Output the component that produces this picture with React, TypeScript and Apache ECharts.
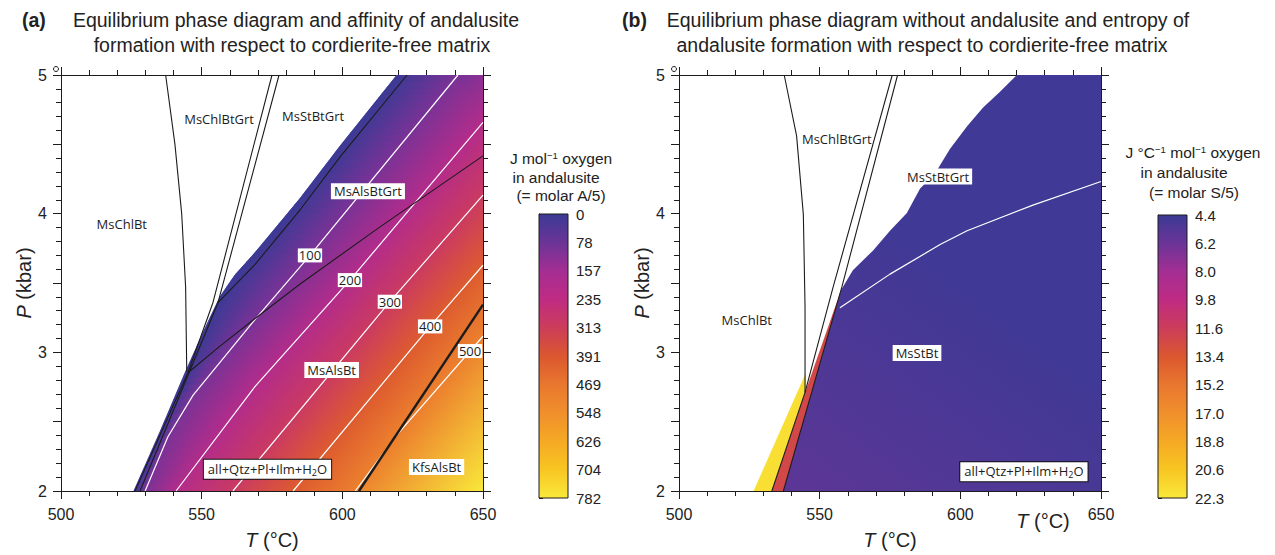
import React, { useEffect, useRef } from 'react';
import * as echarts from 'echarts';

const AXIS_FONT = '"Liberation Sans", Arial, sans-serif';
const LABEL_FONT = '"Open Sans", "Noto Sans", sans-serif';
const INK = '#1c1c1c';

// ---------- colour scale (top -> bottom) ----------
const scaleColors = ['#3b3a95', '#6b3497', '#a42e93', '#bf2b83', '#cc3d5a', '#db572f', '#e9772f', '#f08f2c', '#f5a924', '#f8c622', '#f9e83a'];
const affinityTickLabels = ['0', '78', '157', '235', '313', '391', '469', '548', '626', '704', '782'];
const entropyTickLabels = ['4.4', '6.2', '8.0', '9.8', '11.6', '13.4', '15.2', '17.0', '18.8', '20.6', '22.3'];
const affinityRange = [0, 782];
const entropyRange = [4.4, 22.3];

// ---------- axes ----------
const temperatureTicks = [500, 550, 600, 650];
const pressureTicks = [2, 3, 4, 5];

// ---------- panel (a): affinity contours [T °C, P kbar] ----------
const affinityLevels = [0, 100, 200, 300, 400, 500];
const affinity0 = [[525.9, 2.0], [535.2, 2.427], [544.1, 2.853], [551.2, 3.173], [556.5, 3.40], [561.8, 3.557], [569.0, 3.720], [585.0, 4.111], [599.2, 4.488], [619.4, 5.0]];
const affinity100 = [[529.9, 2.0], [538.0, 2.391], [546.9, 2.690], [569.0, 3.237], [588.5, 3.699], [641.1, 5.0]];
const affinity200 = [[540.9, 2.0], [569.0, 2.754], [602.7, 3.521], [650, 4.659]];
const affinity300 = [[561.1, 2.0], [616.9, 3.365], [650, 4.133]];
const affinity400 = [[582.5, 2.0], [631.2, 3.187], [650, 3.628]];
const affinity500 = [[604.6, 2.0], [619.4, 2.405], [650, 3.116]];
const affinityContours = [affinity0, affinity100, affinity200, affinity300, affinity400, affinity500];
const affinityPeak = [650, 2.0, 782];

// panel (a): reaction lines
const grtInA = [[537.2, 5.0], [540.5, 4.5], [542.9, 4.0], [544.3, 3.47], [544.7, 2.86]];
const chlOutA1 = [[575.0, 5.0], [554.0, 3.358], [545.1, 2.853], [526.3, 2.0]];
const chlOutA2 = [[577.5, 5.0], [555.8, 3.358], [528.1, 2.0]];
const stOutA = [[623.0, 5.0], [599.2, 4.410], [585.0, 4.028], [569.0, 3.635], [555.8, 3.358]];
const grtOutA = [[545.1, 2.853], [556.5, 3.045], [569.0, 3.244], [585.0, 3.493], [613.4, 3.905], [650, 4.417]];
const kfsInA = [[605.9, 2.0], [650, 3.344]];

// panel (a): labels [text, T, P, kind]
const labelsA = [
  ['MsChlBt', 521.6, 3.922, 'plain'],
  ['MsChlBtGrt', 556.2, 4.680, 'plain'],
  ['MsStBtGrt', 589.6, 4.701, 'plain'],
  ['MsAlsBtGrt', 609.1, 4.161, 'box'],
  ['MsAlsBt', 596.2, 2.872, 'box'],
  ['KfsAlsBt', 633.5, 2.173, 'box'],
  ['all+Qtz+Pl+Ilm+H{sub|2}O', 573.4, 2.156, 'frame'],
  ['100', 588.5, 3.699, 'tag'],
  ['200', 602.7, 3.521, 'tag'],
  ['300', 616.9, 3.365, 'tag'],
  ['400', 631.2, 3.187, 'tag'],
  ['500', 645.4, 3.009, 'tag'],
];

// ---------- panel (b): entropy field ----------
const grtInB = [[537.4, 5.0], [541.8, 4.561], [544.2, 3.993], [544.8, 3.329], [544.8, 2.711]];
const chlOutB1 = [[575.8, 5.0], [554.8, 3.472], [544.8, 2.711], [533.0, 2.0]];
const chlOutB2 = [[577.7, 5.0], [557.9, 3.472], [537.1, 2.0]];
const grtOutB = [[557.2, 3.322], [575.0, 3.564], [592.8, 3.777], [602.4, 3.877], [625.8, 4.062], [650, 4.232]];
const entropyYellowOutline = [[526.5, 2.0], [533.0, 2.0], [544.8, 2.711], [545.1, 2.853]];
const entropyYellowValue = 21.8;
const entropyRedOutline = [[533.0, 2.0], [537.1, 2.0], [557.6, 3.45], [544.8, 2.711]];
const entropyRedValue = 12.3;
const entropyBlueOutline = [[537.1, 2.0], [557.6, 3.45], [561.8, 3.592], [569.0, 3.735], [575.0, 3.877], [581.0, 4.005], [585.7, 4.182], [591.0, 4.289], [596.3, 4.467], [602.4, 4.630], [608.1, 4.765], [614.1, 4.879], [620.1, 5.0], [650, 5.0], [650, 2.0]];
const entropyBlueGradient = [[545, 2.0, 5.6], [600, 3.5, 4.6]];

const labelsB = [
  ['MsChlBtGrt', 556.1, 4.538, 'plain'],
  ['MsStBtGrt', 592.1, 4.268, 'box'],
  ['MsChlBt', 524.1, 3.235, 'plain'],
  ['MsStBt', 584.6, 2.995, 'box'],
  ['all+Qtz+Pl+Ilm+H{sub|2}O', 622.6, 2.139, 'frame'],
];

// ---------- helpers ----------
const stopRgb = scaleColors.map((h) => {
  const n = parseInt(h.slice(1), 16);
  return [(n >> 16) & 255, (n >> 8) & 255, n & 255];
});
function colorAt(t: number) {
  const tt = Math.max(0, Math.min(1, t));
  const f = tt * (stopRgb.length - 1);
  const i = Math.min(Math.floor(f), stopRgb.length - 2);
  const u = f - i;
  const a = stopRgb[i], b = stopRgb[i + 1];
  return `rgb(${Math.round(a[0] + (b[0] - a[0]) * u)},${Math.round(a[1] + (b[1] - a[1]) * u)},${Math.round(a[2] + (b[2] - a[2]) * u)})`;
}
const affColor = (v: number) => colorAt((v - affinityRange[0]) / (affinityRange[1] - affinityRange[0]));
const entColor = (v: number) => colorAt((v - entropyRange[0]) / (entropyRange[1] - entropyRange[0]));

function resample(pts: number[][], n: number) {
  const cum = [0];
  for (let i = 1; i < pts.length; i++) cum.push(cum[i - 1] + Math.hypot(pts[i][0] - pts[i - 1][0], pts[i][1] - pts[i - 1][1]));
  const L = cum[cum.length - 1];
  const out: number[][] = [];
  let j = 0;
  for (let k = 0; k <= n; k++) {
    const d = (L * k) / n;
    while (j < pts.length - 2 && cum[j + 1] < d) j++;
    const seg = cum[j + 1] - cum[j] || 1;
    const u = Math.min(1, Math.max(0, (d - cum[j]) / seg));
    out.push([pts[j][0] + (pts[j + 1][0] - pts[j][0]) * u, pts[j][1] + (pts[j + 1][1] - pts[j][1]) * u]);
  }
  return out;
}

function affinityField(params: any, api: any) {
  const cs = params.coordSys;
  const right = cs.x + cs.width, top = cs.y, bottom = cs.y + cs.height;
  const contours = affinityContours.map((c) => c.map((p) => api.coord(p)));
  const h = Math.hypot(1.2, 1);
  const nx = 1.2 / h, ny = 1 / h;
  const proj = (p: number[]) => p[0] * nx + p[1] * ny;
  const mean = (pts: number[][]) => pts.reduce((s, p) => s + proj(p), 0) / pts.length;
  const peakPx = api.coord([affinityPeak[0], affinityPeak[1]]);
  const children: any[] = [];
  contours.forEach((c, i) => {
    const poly = c.slice();
    const last = c[c.length - 1];
    if (Math.abs(last[1] - top) < 1) poly.push([right, top]);
    poly.push([right, bottom]);
    const s0 = mean(c);
    const s1 = i < contours.length - 1 ? mean(contours[i + 1]) : proj(peakPx);
    const v1 = i < contours.length - 1 ? affinityLevels[i + 1] : affinityPeak[2];
    const g = new echarts.graphic.LinearGradient(s0 * nx, s0 * ny, s1 * nx, s1 * ny,
      [{ offset: 0, color: affColor(affinityLevels[i]) }, { offset: 1, color: affColor(v1) }], true);
    children.push({ type: 'polygon', shape: { points: poly }, style: { fill: g } });
  });
  const N = 60;
  for (let i = 0; i < contours.length - 1; i++) {
    const A = resample(contours[i], N), B = resample(contours[i + 1], N);
    const c0 = affColor(affinityLevels[i]), c1 = affColor(affinityLevels[i + 1]);
    for (let k = 0; k < N; k++) {
      const a0 = A[k], a1 = A[k + 1], b0 = B[k], b1 = B[k + 1];
      const ma = [(a0[0] + a1[0]) / 2, (a0[1] + a1[1]) / 2];
      const mb = [(b0[0] + b1[0]) / 2, (b0[1] + b1[1]) / 2];
      const g = new echarts.graphic.LinearGradient(ma[0], ma[1], mb[0], mb[1], [{ offset: 0, color: c0 }, { offset: 1, color: c1 }], true);
      children.push({ type: 'polygon', shape: { points: [a0, a1, b1, b0] }, style: { fill: g, stroke: g, lineWidth: 0.8 } });
    }
  }
  return { type: 'group', children };
}

function entropyField(params: any, api: any) {
  const toPx = (arr: number[][]) => arr.map((p) => api.coord(p));
  const g0 = api.coord([entropyBlueGradient[0][0], entropyBlueGradient[0][1]]);
  const g1 = api.coord([entropyBlueGradient[1][0], entropyBlueGradient[1][1]]);
  const blueFill = new echarts.graphic.LinearGradient(g0[0], g0[1], g1[0], g1[1],
    [{ offset: 0, color: entColor(entropyBlueGradient[0][2]) }, { offset: 1, color: entColor(entropyBlueGradient[1][2]) }], true);
  return {
    type: 'group',
    children: [
      { type: 'polygon', shape: { points: toPx(entropyBlueOutline) }, style: { fill: blueFill } },
      { type: 'polygon', shape: { points: toPx(entropyRedOutline) }, style: { fill: entColor(entropyRedValue) } },
      { type: 'polygon', shape: { points: toPx(entropyYellowOutline) }, style: { fill: entColor(entropyYellowValue) } },
    ],
  };
}

function colorBarItem(params: any, api: any) {
  const p0 = api.coord([0, 0]);
  const p1 = api.coord([1, 10]);
  const x = Math.min(p0[0], p1[0]), y = Math.min(p0[1], p1[1]);
  const w = Math.abs(p1[0] - p0[0]), hh = Math.abs(p1[1] - p0[1]);
  const stops = scaleColors.map((c, i) => ({ offset: i / (scaleColors.length - 1), color: c }));
  return {
    type: 'rect',
    shape: { x, y, width: w, height: hh },
    style: { fill: new echarts.graphic.LinearGradient(0, 0, 0, 1, stops), stroke: INK, lineWidth: 1 },
  };
}

function lineSeries(data: number[][], idx: number, color: string, width: number) {
  return {
    type: 'line', xAxisIndex: idx, yAxisIndex: idx, data, symbol: 'none', showSymbol: false,
    lineStyle: { color, width }, silent: true, z: 4, animation: false,
  };
}

function labelSeries(items: any[], idx: number) {
  return {
    type: 'custom', xAxisIndex: idx, yAxisIndex: idx, silent: true, z: 10,
    data: items.map((it) => [it[1], it[2]]),
    renderItem: (params: any, api: any) => {
      const [text, T, P, kind] = items[params.dataIndex];
      const p = api.coord([T, P]);
      const style: any = {
        text, fill: INK, font: `13px ${LABEL_FONT}`, textAlign: 'center', textVerticalAlign: 'middle',
        lineHeight: 16,
        rich: { sub: { fontSize: 9, fontFamily: LABEL_FONT, fill: INK, verticalAlign: 'bottom', lineHeight: 9 } },
      };
      if (kind === 'box') { style.backgroundColor = '#ffffff'; style.padding = [0, 3, 0, 3]; }
      if (kind === 'tag') { style.backgroundColor = '#ffffff'; style.padding = [-1, 1, -1, 1]; }
      if (kind === 'frame') { style.backgroundColor = '#ffffff'; style.borderColor = '#111'; style.borderWidth = 1; style.padding = [1, 4, 2, 4]; }
      return { type: 'text', x: p[0], y: p[1], style };
    },
  };
}

function xAxes(grid: number, withName: boolean) {
  const common = {
    type: 'value', gridIndex: grid, min: temperatureTicks[0], max: temperatureTicks[temperatureTicks.length - 1],
    interval: temperatureTicks[1] - temperatureTicks[0],
    axisLine: { show: true, onZero: false, lineStyle: { color: INK, width: 1 } },
    axisTick: { show: true, length: 8, lineStyle: { color: INK, width: 1 } },
    minorTick: { show: true, splitNumber: 5, length: 5, lineStyle: { color: INK, width: 1 } },
    splitLine: { show: false }, minorSplitLine: { show: false },
  };
  return [
    {
      ...common, position: 'bottom',
      axisLabel: { show: true, fontSize: 16, fontFamily: AXIS_FONT, color: '#222', margin: 15 },
      name: withName ? '{i|T} (°C)' : '', nameLocation: 'middle', nameGap: 39,
      nameTextStyle: { fontSize: 20, fontFamily: AXIS_FONT, color: '#222', rich: { i: { fontSize: 20, fontStyle: 'italic', fontFamily: AXIS_FONT, color: '#222' } } },
    },
    { ...common, position: 'top', axisLabel: { show: false } },
  ];
}
function yAxes(grid: number) {
  const common = {
    type: 'value', gridIndex: grid, min: pressureTicks[0], max: pressureTicks[pressureTicks.length - 1], interval: 0.5,
    axisLine: { show: true, onZero: false, lineStyle: { color: INK, width: 1 } },
    axisTick: { show: true, length: 8, lineStyle: { color: INK, width: 1 } },
    minorTick: { show: true, splitNumber: 5, length: 5, lineStyle: { color: INK, width: 1 } },
    splitLine: { show: false }, minorSplitLine: { show: false },
  };
  return [
    {
      ...common, position: 'left',
      axisLabel: {
        show: true, fontSize: 16, fontFamily: AXIS_FONT, color: '#222', margin: 14,
        formatter: (v: number) => (pressureTicks.indexOf(v) >= 0 ? String(v) : ''),
      },
      name: '{i|P} (kbar)', nameLocation: 'middle', nameGap: 24,
      nameTextStyle: { fontSize: 20, fontFamily: AXIS_FONT, color: '#222', rich: { i: { fontSize: 20, fontStyle: 'italic', fontFamily: AXIS_FONT, color: '#222' } } },
    },
    { ...common, position: 'right', axisLabel: { show: false } },
  ];
}
function barAxis(grid: number, labels: string[]) {
  return {
    type: 'value', gridIndex: grid, position: 'right', min: 0, max: labels.length - 1, interval: 1, inverse: true,
    axisLine: { show: true, lineStyle: { color: INK, width: 1 } },
    axisTick: { show: true, length: 4, lineStyle: { color: INK } },
    axisLabel: { fontSize: 15, fontFamily: AXIS_FONT, color: '#222', margin: 8, formatter: (v: number) => labels[Math.round(v)] },
    splitLine: { show: false },
  };
}

function txt(x: number, y: number, text: string, size: number, opts: any = {}) {
  return {
    type: 'text', x, y, silent: true,
    style: {
      text, fill: '#222', font: `${opts.bold ? 'bold ' : ''}${size}px ${AXIS_FONT}`,
      textAlign: opts.align || 'center', textVerticalAlign: 'middle',
      rich: {
        sup: { fontSize: size * 0.62, fontFamily: AXIS_FONT, fill: '#222', verticalAlign: 'top', lineHeight: size * 0.7 },
        i: { fontSize: size, fontStyle: 'italic', fontFamily: AXIS_FONT, fill: '#222' },
      },
    },
  };
}

function buildOption(): any {
  return {
    animation: false,
    backgroundColor: '#fff',
    grid: [
      { left: 61, top: 75, width: 422, height: 422 },
      { left: 679, top: 75, width: 422, height: 422 },
      { left: 539, top: 214, width: 29, height: 284 },
      { left: 1158, top: 215, width: 29, height: 283 },
    ],
    xAxis: [
      ...xAxes(0, true), ...xAxes(1, true),
      { type: 'value', gridIndex: 2, min: 0, max: 1, show: false },
      { type: 'value', gridIndex: 3, min: 0, max: 1, show: false },
    ],
    yAxis: [
      ...yAxes(0), ...yAxes(1),
      barAxis(2, affinityTickLabels),
      barAxis(3, entropyTickLabels),
    ],
    series: [
      // panel a
      { type: 'custom', xAxisIndex: 0, yAxisIndex: 0, renderItem: affinityField, data: [[575, 3.5]], silent: true, z: 1, clip: true },
      ...affinityContours.slice(1).map((c) => lineSeries(c, 0, '#ffffff', 1.2)),
      lineSeries(grtInA, 0, INK, 1.1),
      lineSeries(chlOutA1, 0, INK, 1.1),
      lineSeries(chlOutA2, 0, INK, 1.1),
      lineSeries(stOutA, 0, INK, 1.1),
      lineSeries(grtOutA, 0, INK, 1.1),
      lineSeries(kfsInA, 0, INK, 2.4),
      labelSeries(labelsA, 0),
      // panel b
      { type: 'custom', xAxisIndex: 2, yAxisIndex: 2, renderItem: entropyField, data: [[575, 3.5]], silent: true, z: 1, clip: true },
      lineSeries(grtOutB, 2, '#ffffff', 1.2),
      lineSeries(grtInB, 2, INK, 1.1),
      lineSeries(chlOutB1, 2, INK, 1.1),
      lineSeries(chlOutB2, 2, INK, 1.1),
      labelSeries(labelsB, 2),
      // colour bars
      { type: 'custom', xAxisIndex: 4, yAxisIndex: 4, renderItem: colorBarItem, data: [[0.5, 5]], silent: true, z: 1 },
      { type: 'custom', xAxisIndex: 5, yAxisIndex: 5, renderItem: colorBarItem, data: [[0.5, 5]], silent: true, z: 1 },
    ],
    graphic: [
      txt(22, 20, '(a)', 19.5, { bold: true, align: 'left' }),
      txt(296, 20, 'Equilibrium phase diagram and affinity of andalusite', 19.5),
      txt(292, 45, 'formation with respect to cordierite-free matrix', 19.5),
      txt(622, 20, '(b)', 19.5, { bold: true, align: 'left' }),
      txt(928, 20, 'Equilibrium phase diagram without andalusite and entropy of', 19.5),
      txt(922, 45, 'andalusite formation with respect to cordierite-free matrix', 19.5),
      txt(561, 158, 'J mol{sup|−1} oxygen', 15.5),
      txt(556, 177, 'in andalusite', 15.5),
      txt(561, 195, '(= molar A/5)', 15.5),
      txt(1193, 152, 'J °C{sup|−1} mol{sup|−1} oxygen', 15.5),
      txt(1184, 172, 'in andalusite', 15.5),
      txt(1194, 192, '(= molar S/5)', 15.5),
      txt(1043, 521, '{i|T} (°C)', 20),
      { type: 'circle', shape: { cx: 56, cy: 69, r: 2.5 }, style: { fill: 'none', stroke: INK, lineWidth: 1 }, silent: true },
      { type: 'circle', shape: { cx: 674, cy: 69, r: 2.5 }, style: { fill: 'none', stroke: INK, lineWidth: 1 }, silent: true },
    ],
  };
}

export default function App() {
  const ref = useRef<HTMLDivElement>(null);
  useEffect(() => {
    const chart = echarts.init(ref.current as HTMLDivElement, undefined, { renderer: 'svg' });
    chart.setOption(buildOption());
    return () => chart.dispose();
  }, []);
  return <div ref={ref} style={{ position: 'fixed', left: 0, top: 0, width: 1275, height: 555, background: '#fff' }} />;
}
